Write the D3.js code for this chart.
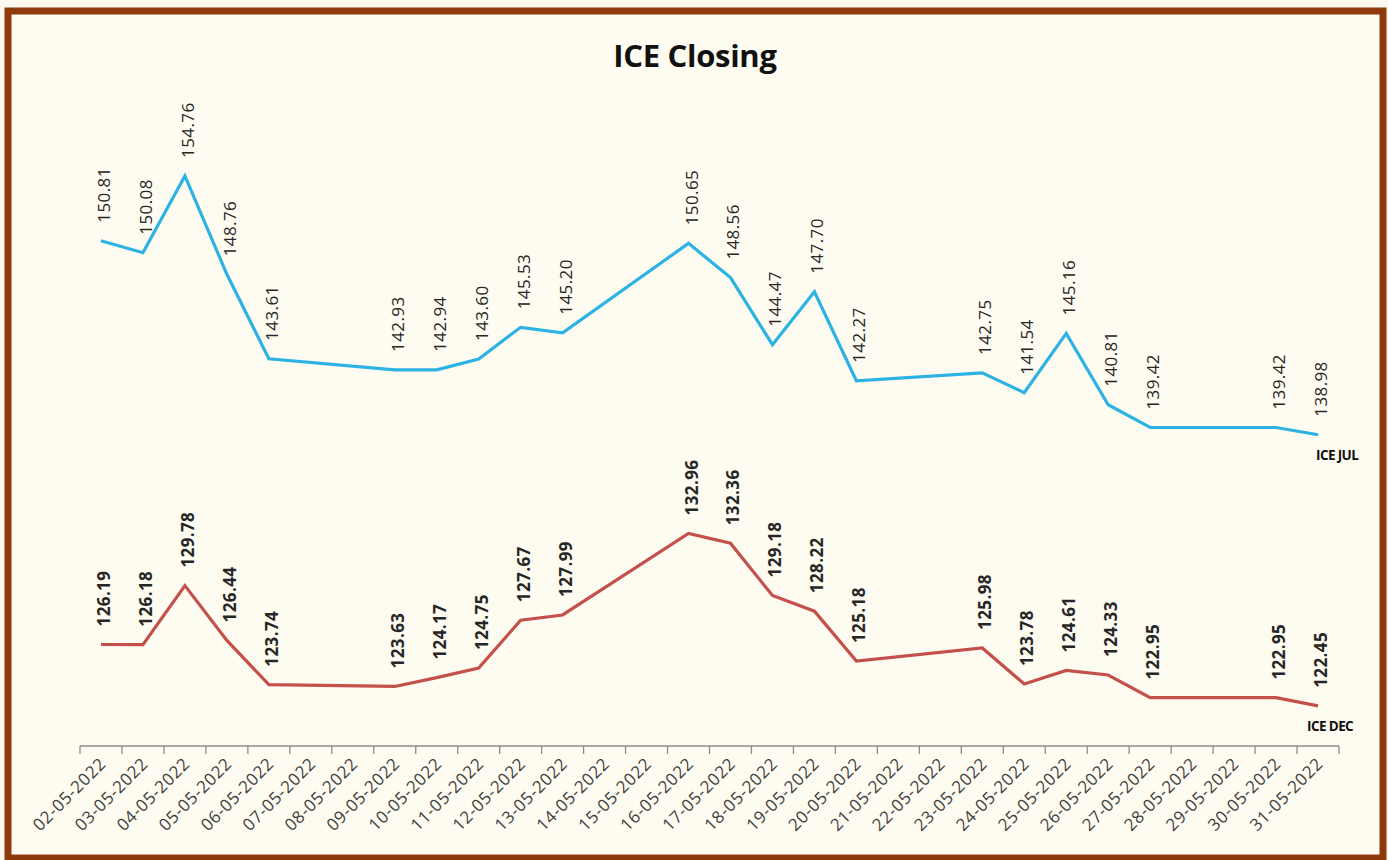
<!DOCTYPE html>
<html>
<head>
<meta charset="utf-8">
<script src="https://cdn.jsdelivr.net/npm/d3@7"></script>
<style>
  html, body { margin: 0; padding: 0; background: #fdf9ef; }
  svg { display: block; }
</style>
</head>
<body>
<script>
// all calendar days on the category axis
var days = d3.range(2, 32).map(function (d) {
  return (d < 10 ? '0' + d : '' + d) + '-05-2022';
});

// trading days that carry a value
var tradeDays = ['02-05-2022', '03-05-2022', '04-05-2022', '05-05-2022', '06-05-2022',
  '09-05-2022', '10-05-2022', '11-05-2022', '12-05-2022', '13-05-2022',
  '16-05-2022', '17-05-2022', '18-05-2022', '19-05-2022', '20-05-2022',
  '23-05-2022', '24-05-2022', '25-05-2022', '26-05-2022', '27-05-2022',
  '30-05-2022', '31-05-2022'];

var iceJul = [150.81, 150.08, 154.76, 148.76, 143.61,
  142.93, 142.94, 143.60, 145.53, 145.20,
  150.65, 148.56, 144.47, 147.70, 142.27,
  142.75, 141.54, 145.16, 140.81, 139.42,
  139.42, 138.98];

var iceDec = [126.19, 126.18, 129.78, 126.44, 123.74,
  123.63, 124.17, 124.75, 127.67, 127.99,
  132.96, 132.36, 129.18, 128.22, 125.18,
  125.98, 123.78, 124.61, 124.33, 122.95,
  122.95, 122.45];

var seriesNames = ['ICE JUL', 'ICE DEC'];
var seriesColors = ['#2cb3e4', '#c4504c'];

var width = 1388, height = 860;

var svg = d3.select('body').append('svg')
  .attr('width', width)
  .attr('height', height);

// chart area + frame
svg.append('rect')
  .attr('x', 8).attr('y', 11)
  .attr('width', 1375).attr('height', 847)
  .attr('fill', '#fefbf0')
  .attr('stroke', '#8f3a0c')
  .attr('stroke-width', 7);

svg.append('text')
  .attr('x', 695).attr('y', 67)
  .attr('text-anchor', 'middle')
  .attr('font-family', 'Open Sans, sans-serif')
  .attr('font-weight', 'bold')
  .attr('font-size', 31)
  .attr('letter-spacing', -0.3)
  .attr('fill', '#111')
  .text('ICE Closing');

var x = d3.scaleBand().domain(days).range([80, 1339]);
var y = d3.scaleLinear().domain([120, 160]).range([746, 90]);

// x axis
var xAxis = svg.append('g')
  .attr('transform', 'translate(0,746)');
xAxis.append('line')
  .attr('x1', 80).attr('x2', 1339)
  .attr('stroke', '#8c8c8c').attr('stroke-width', 1.3);
xAxis.selectAll('line.tick')
  .data(d3.range(days.length + 1))
  .enter().append('line')
  .attr('class', 'tick')
  .attr('x1', function (i) { return 80 + i * x.step(); })
  .attr('x2', function (i) { return 80 + i * x.step(); })
  .attr('y1', 0).attr('y2', 8)
  .attr('stroke', '#8c8c8c').attr('stroke-width', 1.3);
xAxis.selectAll('text')
  .data(days)
  .enter().append('text')
  .attr('transform', function (d) {
    return 'translate(' + (x(d) + x.bandwidth() / 2 + 6) + ',19) rotate(-45)';
  })
  .attr('text-anchor', 'end')
  .attr('font-family', 'Open Sans, sans-serif')
  .attr('font-size', 17)
  .attr('letter-spacing', 0.6)
  .attr('fill', '#404040')
  .text(function (d) { return d; });

var cx = function (d) { return x(d.day) + x.bandwidth() / 2; };

var line = d3.line()
  .x(cx)
  .y(function (d) { return y(d.v); });

[iceJul, iceDec].forEach(function (vals, s) {
  var pts = tradeDays.map(function (day, i) { return { day: day, v: vals[i] }; });
  var g = svg.append('g');

  g.append('path')
    .datum(pts)
    .attr('d', line)
    .attr('fill', 'none')
    .attr('stroke', seriesColors[s])
    .attr('stroke-width', 3.2)
    .attr('stroke-linejoin', 'miter');

  g.selectAll('text.val')
    .data(pts)
    .enter().append('text')
    .attr('class', 'val')
    .attr('transform', function (d) {
      return 'translate(' + (cx(d) + 9) + ',' + (y(d.v) - 18) + ') rotate(-90)';
    })
    .attr('font-family', 'Open Sans, sans-serif')
    .attr('font-size', 17)
    .attr('letter-spacing', 0.4)
    .attr('font-weight', s === 1 ? 'bold' : 'normal')
    .attr('fill', '#262626')
    .text(function (d) { return d.v.toFixed(2); });

  var last = pts[pts.length - 1];
  g.append('text')
    .attr('x', cx(last) - (s === 0 ? 2 : 11))
    .attr('y', y(last.v) + 25)
    .attr('font-family', 'Open Sans, sans-serif')
    .attr('font-size', 13.5)
    .attr('font-weight', 'bold')
    .attr('letter-spacing', -0.6)
    .attr('fill', '#111')
    .text(seriesNames[s]);
});
</script>
</body>
</html>
